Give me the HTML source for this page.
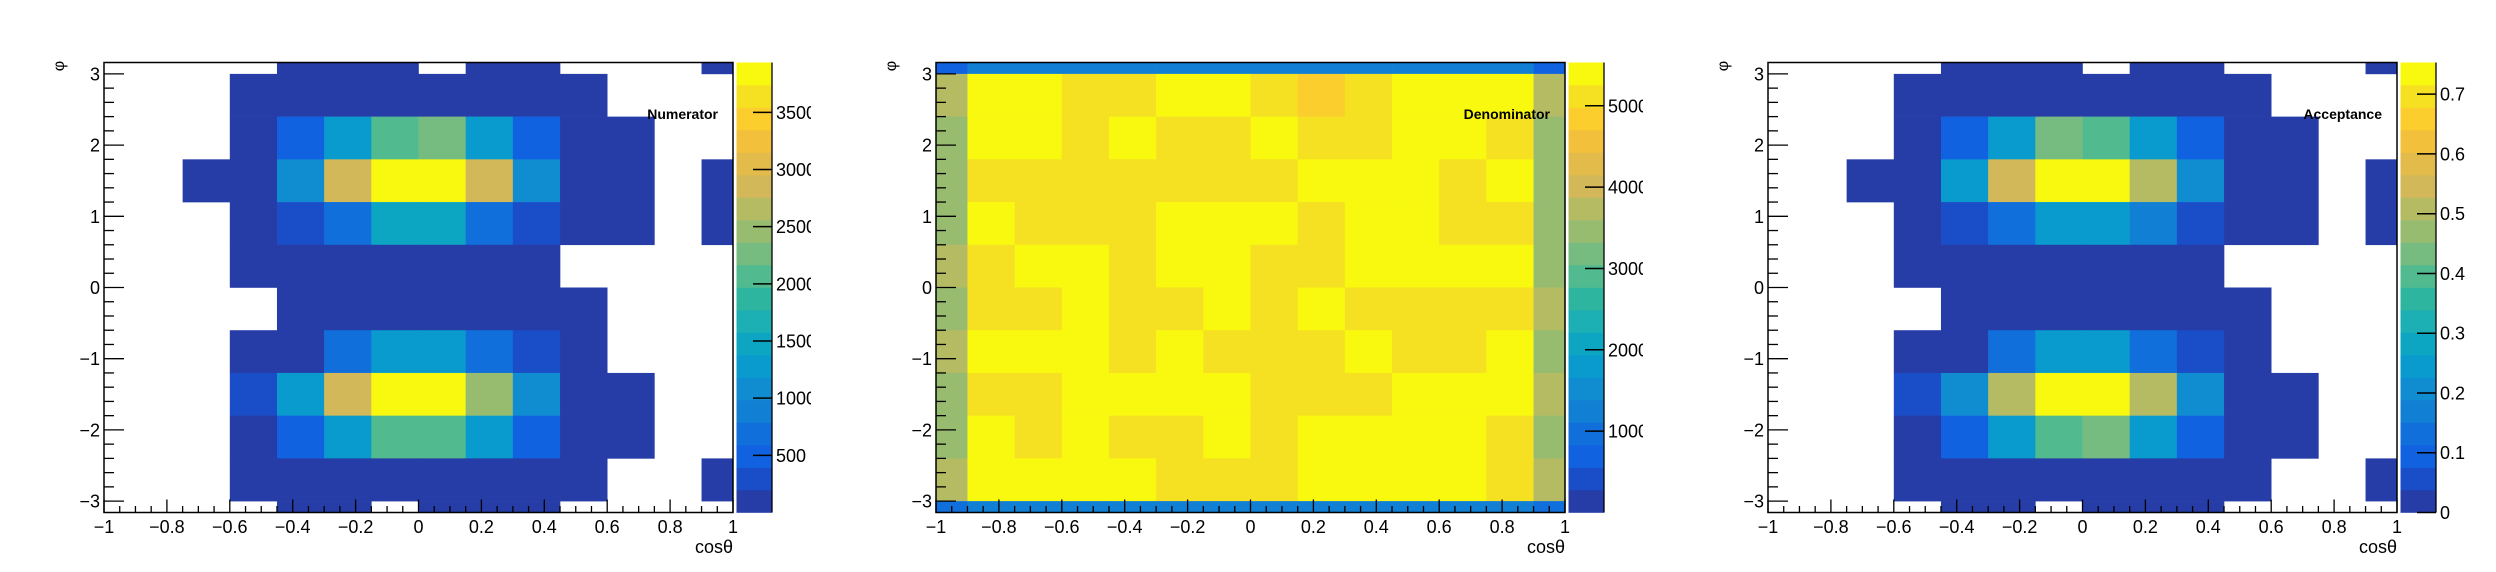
<!DOCTYPE html>
<html><head><meta charset="utf-8">
<style>
html,body{margin:0;padding:0;background:#fff;}
svg{display:block;font-family:"Liberation Sans",sans-serif;}
</style></head>
<body>
<svg id="root" width="2496" height="572" viewBox="0 0 2496 572" xmlns="http://www.w3.org/2000/svg"></svg>
<script>
// ---- data ----
const xEdgesStart = -1.05, xBinWidth = 0.15, nX = 14;
const yEdgesStart = 3.6, yBinWidth = 0.6, nY = 12;
const xTickLabels = [-1,-0.8,-0.6,-0.4,-0.2,0,0.2,0.4,0.6,0.8,1];
const yTickLabels = [3,2,1,0,-1,-2,-3];

const numeratorValues = [
[0,0,0,0,100,100,100,0,100,100,0,0,0,100],
[0,0,0,100,100,100,100,100,100,100,100,0,0,0],
[0,0,0,100,490,1280,2065,2260,1280,490,100,100,0,0],
[0,0,100,100,1080,2850,3850,3850,2850,1080,100,100,0,100],
[0,0,0,100,295,690,1475,1475,690,295,100,100,0,100],
[0,0,0,100,100,100,100,100,100,100,0,0,0,0],
[0,0,0,0,100,100,100,100,100,100,100,0,0,0],
[0,0,0,100,100,690,1280,1280,690,295,100,0,0,0],
[0,0,0,295,1280,2850,3850,3850,2460,1080,100,100,0,0],
[0,0,0,100,490,1280,2065,2065,1280,490,100,100,0,0],
[0,0,0,100,100,100,100,100,100,100,100,0,0,100],
[0,0,0,0,100,100,0,100,100,100,0,0,0,0]
];
const numeratorZMax = 3936;
const numeratorScaleTicks = [500,1000,1500,2000,2500,3000,3500];

const denominatorValues = [
[690,1245,1245,1245,1245,1245,1245,1245,1245,1245,1245,1245,1245,690],
[3735,5390,5390,5120,5120,5390,5390,5120,4840,5120,5390,5390,5390,3735],
[3460,5390,5390,5120,5390,5120,5120,5390,5120,5120,5390,5390,5120,3460],
[3460,5120,5120,5120,5120,5120,5120,5120,5390,5390,5390,5120,5390,3460],
[3460,5390,5120,5120,5120,5390,5390,5390,5120,5390,5390,5120,5120,3460],
[3735,5120,5390,5390,5120,5390,5390,5120,5120,5390,5390,5390,5390,3460],
[3460,5120,5120,5390,5120,5120,5390,5120,5390,5120,5120,5120,5120,3735],
[3735,5390,5390,5390,5120,5390,5120,5120,5120,5390,5120,5120,5390,3460],
[3460,5120,5120,5390,5390,5390,5390,5120,5120,5120,5390,5390,5390,3735],
[3460,5390,5120,5390,5120,5120,5390,5120,5390,5390,5390,5390,5120,3460],
[3735,5390,5390,5390,5390,5120,5120,5120,5390,5390,5390,5390,5120,3735],
[970,1245,1245,1245,1245,1245,1245,1245,1245,1245,1245,1245,1245,970]
];
const denominatorZMax = 5532;
const denominatorScaleTicks = [1000,2000,3000,4000,5000];

const acceptanceValues = [
[0,0,0,0,.02,.02,.02,0,.02,.02,0,0,0,.02],
[0,0,0,.02,.02,.02,.02,.02,.02,.02,.02,0,0,0],
[0,0,0,.02,.094,.245,.43,.395,.245,.094,.02,.02,0,0],
[0,0,.02,.02,.245,.55,.73,.73,.51,.21,.02,.02,0,.02],
[0,0,0,.02,.056,.13,.245,.245,.17,.056,.02,.02,0,.02],
[0,0,0,.02,.02,.02,.02,.02,.02,.02,0,0,0,0],
[0,0,0,0,.02,.02,.02,.02,.02,.02,.02,0,0,0],
[0,0,0,.02,.02,.13,.245,.245,.13,.056,.02,0,0,0],
[0,0,0,.056,.21,.51,.73,.73,.51,.21,.02,.02,0,0],
[0,0,0,.02,.094,.245,.395,.43,.245,.094,.02,.02,0,0],
[0,0,0,.02,.02,.02,.02,.02,.02,.02,.02,0,0,.02],
[0,0,0,0,.02,.02,0,.02,.02,.02,0,0,0,0]
];
const acceptanceZMax = 0.753;
const acceptanceScaleTicks = [0,0.1,0.2,0.3,0.4,0.5,0.6,0.7];

const palette = ["#263ca6","#1a4dc8","#1062e0","#116fdb","#1180d4","#0f8dd0","#099bcd","#0da6c2","#1cb0b4","#2db59f","#51bb8f","#76bc80","#97bc70","#b4bb63","#d3b85a","#e3bb4a","#f3c03b","#fbcd2d","#f6e022","#f8f90f"];

// ---- drawing ----
const NS = "http://www.w3.org/2000/svg";
const root = document.getElementById('root');
const FX0 = 104, FX1 = 733, FY0 = 62.5, FY1 = 512.5;
const YMAX = 3.16, YMIN = -3.16;
function sx(x){ return FX0 + (x + 1) / 2 * (FX1 - FX0); }
function sy(y){ return FY0 + (YMAX - y) / (YMAX - YMIN) * (FY1 - FY0); }
function mk(tag, attrs, parent){
  const e = document.createElementNS(NS, tag);
  for (const k in attrs) e.setAttribute(k, attrs[k]);
  parent.appendChild(e);
  return e;
}
function fmt(v){ return (v < 0 ? "\u2212" : "") + String(Math.abs(v)); }

function drawPanel(idx, ox, grid, zmax, scaleTicks, title, name){
  const g = mk('g', {transform: 'translate(' + ox + ',0)'}, root);
  
  
  const cid = 'clip' + idx;
  const cp = mk('clipPath', {id: cid}, g);
  mk('rect', {x: FX0, y: FY0, width: FX1 - FX0, height: FY1 - FY0}, cp);
  const cells = mk('g', {'clip-path': 'url(#' + cid + ')'}, g);
  
  
  for (let r = 0; r < nY; r++){
    for (let c = 0; c < nX; c++){
      const v = grid[r][c];
      if (!(v > 0)) continue;
      let b = Math.floor(v / zmax * 20); if (b > 19) b = 19; if (b < 0) b = 0;
      const x0 = sx(xEdgesStart + c * xBinWidth), x1 = sx(xEdgesStart + (c + 1) * xBinWidth);
      const y0 = sy(yEdgesStart - r * yBinWidth), y1 = sy(yEdgesStart - (r + 1) * yBinWidth);
      const rc = mk('rect', {x: x0, y: y0, width: x1 - x0 + 0.3, height: y1 - y0 + 0.3, fill: palette[b]}, cells);
      
      
    }
  }
  // frame
  const fr = mk('rect', {x: FX0, y: FY0, width: FX1 - FX0, height: FY1 - FY0, fill: 'none', stroke: '#000', 'stroke-width': 1.5}, g);
  
  
  // x ticks
  const xa = mk('g', {}, g);
  
  
  for (let k = 0; k <= 40; k++){
    const xv = -1 + k * 0.05;
    const major = k % 4 === 0;
    const px = sx(xv);
    mk('line', {x1: px, x2: px, y1: FY1, y2: FY1 - (major ? 13 : 6.5), stroke: '#000', 'stroke-width': 1.3}, xa);
  }
  xTickLabels.forEach(v => {
    const t = mk('text', {x: sx(v), y: 533, 'font-size': 18, 'text-anchor': 'middle'}, xa);
    t.textContent = fmt(v);
    
    
  });
  const xt = mk('text', {x: FX1, y: 553, 'font-size': 18, 'text-anchor': 'end'}, g);
  xt.textContent = 'cos\u03b8';
  
  
  // y ticks
  const ya = mk('g', {}, g);
  
  
  for (let k = -15; k <= 15; k++){
    const yv = k * 0.2;
    const major = k % 5 === 0;
    const py = sy(yv);
    mk('line', {x1: FX0, x2: FX0 + (major ? 20 : 10), y1: py, y2: py, stroke: '#000', 'stroke-width': 1.3}, ya);
  }
  yTickLabels.forEach(v => {
    const t = mk('text', {x: 100, y: sy(v) + 6.5, 'font-size': 18, 'text-anchor': 'end'}, ya);
    t.textContent = fmt(v);
    
    
  });
  const yt = mk('text', {x: 0, y: 0, 'font-size': 16, 'text-anchor': 'middle', transform: 'translate(64,66) rotate(-90)'}, g);
  yt.textContent = '\u03c6';
  
  
  // title
  const tt = mk('text', {x: 718, y: 119, 'font-size': 14, 'font-weight': 'bold', 'text-anchor': 'end'}, g);
  tt.textContent = title;
  
  
  // palette
  const pg = mk('g', {}, g);
  
  
  const PX0 = 736.5, PX1 = 772;
  const bh = (FY1 - FY0) / 20;
  for (let b = 0; b < 20; b++){
    mk('rect', {x: PX0, y: FY1 - (b + 1) * bh, width: PX1 - PX0, height: bh + 0.3, fill: palette[b]}, pg);
  }
  mk('line', {x1: PX1, x2: PX1, y1: FY0, y2: FY1, stroke: '#000', 'stroke-width': 1.3}, pg);
  const pcid = 'pclip' + idx;
  const pcp = mk('clipPath', {id: pcid}, g);
  mk('rect', {x: 700, y: 0, width: 111, height: 572}, pcp);
  const lg = mk('g', {'clip-path': 'url(#' + pcid + ')'}, pg);
  scaleTicks.forEach(v => {
    const py = FY1 - v / zmax * (FY1 - FY0);
    mk('line', {x1: PX1 - 19, x2: PX1, y1: py, y2: py, stroke: '#000', 'stroke-width': 1.5}, pg);
    const t = mk('text', {x: 776, y: py + 6.5, 'font-size': 18}, lg);
    t.textContent = String(v);
    
    
  });
}

drawPanel(0, 0, numeratorValues, numeratorZMax, numeratorScaleTicks, 'Numerator', 'numerator');
drawPanel(1, 832, denominatorValues, denominatorZMax, denominatorScaleTicks, 'Denominator', 'denominator');
drawPanel(2, 1664, acceptanceValues, acceptanceZMax, acceptanceScaleTicks, 'Acceptance', 'acceptance');
</script>
</body></html>
